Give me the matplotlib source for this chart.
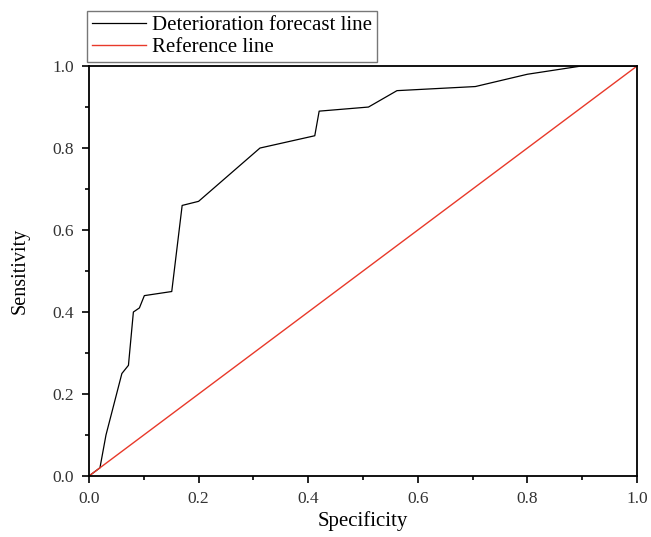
import matplotlib
matplotlib.use("Agg")
import matplotlib.pyplot as plt
from matplotlib.ticker import MultipleLocator

# ROC curve
specificity = [0.0, 0.02, 0.031, 0.060, 0.072, 0.081, 0.092, 0.101, 0.151, 0.170, 0.20,
               0.312, 0.412, 0.42, 0.51, 0.562, 0.705, 0.80, 0.898, 1.0]
sensitivity = [0.0, 0.02, 0.10, 0.25, 0.27, 0.40, 0.41, 0.44, 0.45, 0.66, 0.67,
               0.80, 0.83, 0.89, 0.90, 0.94, 0.95, 0.98, 1.0, 1.0]
ref_x = [0.0, 1.0]
ref_y = [0.0, 1.0]
ticks = [0.0, 0.2, 0.4, 0.6, 0.8, 1.0]

plt.rcParams['font.family'] = ['Liberation Serif', 'DejaVu Serif']

fig = plt.figure(figsize=(6.51, 5.37), dpi=100)
ax = fig.add_axes([0.1367, 0.1136, 0.8418, 0.7634])

l1, = ax.plot(specificity, sensitivity, color='black', lw=0.9, label='Deterioration forecast line')
l2, = ax.plot(ref_x, ref_y, color='#e8392a', lw=1.0, label='Reference line')

ax.set_xlim(0, 1)
ax.set_ylim(0, 1)
ax.set_xticks(ticks)
ax.set_yticks(ticks)
ax.set_xticklabels(["%.1f" % t for t in ticks])
ax.set_yticklabels(["%.1f" % t for t in ticks])
ax.xaxis.set_minor_locator(MultipleLocator(0.1))
ax.yaxis.set_minor_locator(MultipleLocator(0.1))
ax.tick_params(which='major', direction='out', length=5, width=1.2, labelsize=12.5,
               labelcolor='#333333', top=False, right=False)
ax.tick_params(axis='x', which='major', pad=6)
ax.tick_params(axis='y', which='major', pad=6)
ax.tick_params(which='minor', direction='out', length=3, width=1.2, top=False, right=False)
for s in ax.spines.values():
    s.set_linewidth(1.3)

ax.set_xlabel('Specificity', fontsize=15, labelpad=3)
ax.set_ylabel('Sensitivity', fontsize=14.5, labelpad=16)

leg = fig.legend(handles=[l1, l2], loc='lower left', bbox_to_anchor=(0.1336, 0.8845),
                 bbox_transform=fig.transFigure, fontsize=15, frameon=True, fancybox=False,
                 edgecolor='#555555', handlelength=2.6, handletextpad=0.3,
                 borderpad=0.22, labelspacing=0.12, borderaxespad=0)
leg.get_frame().set_linewidth(1.0)

fig.savefig('out.png', dpi=100)
